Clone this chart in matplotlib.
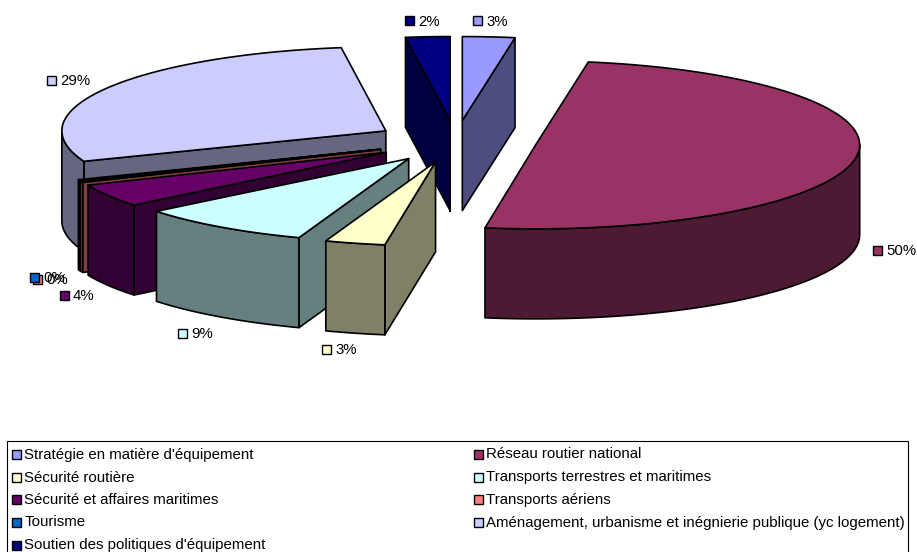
import numpy as np
import matplotlib
matplotlib.use("Agg")
import matplotlib.pyplot as plt
from matplotlib.patches import Polygon, Rectangle

plt.rcParams["font.family"] = ["Liberation Sans", "DejaVu Sans"]

categories = [
    "Stratégie en matière d'équipement",
    "Réseau routier national",
    "Sécurité routière",
    "Transports terrestres et maritimes",
    "Sécurité et affaires maritimes",
    "Transports aériens",
    "Tourisme",
    "Aménagement, urbanisme et inégnierie publique (yc logement)",
    "Soutien des politiques d'équipement",
]
shares = [2.6, 49.9, 3.0, 8.7, 4.4, 0.3, 0.2, 28.7, 2.2]
colors = ["#9999FF", "#993366", "#FFFFCC", "#CCFFFF", "#660066",
          "#FF8080", "#0066CC", "#CCCCFF", "#000080"]

# pie layout, in pixels
CX, CY = 455.7, 141.5
RX, RY = 324, 84
DEPTH = 90
EXPLODE = 0.25
LW = 1.2
FONT = 10.8

# back slices first, the front ones paint over them
draw_order = [7, 8, 0, 1, 6, 5, 4, 3, 2]

# swatch left/top of each percentage label
label_pos = [(472, 15.5), (872, 245), (321, 344), (177, 328), (59, 290),
             (32, 274), (29, 272), (46, 75), (404, 15.5)]


def ellipse_pt(x0, y0, theta):
    # theta in degrees, clockwise from the top of the pie
    t = np.radians(theta)
    return x0 + RX * np.sin(t), y0 - RY * np.cos(t)


def shade(color):
    r, g, b = matplotlib.colors.to_rgb(color)
    return (r * 0.5, g * 0.5, b * 0.5)


def face(ax, pts, color, z):
    ax.add_patch(Polygon(pts, closed=True, facecolor=color, edgecolor="black",
                         linewidth=LW, joinstyle="round", zorder=z))


def draw_slice(ax, start, end, color, z):
    mid = (start + end) / 2
    x0, y0 = ellipse_pt(CX, CY, mid)
    x0 = CX + EXPLODE * (x0 - CX)
    y0 = CY + EXPLODE * (y0 - CY)
    dark = shade(color)

    # cut faces that look towards the viewer
    if np.sin(np.radians(start)) < 0:
        x1, y1 = ellipse_pt(x0, y0, start)
        face(ax, [(x0, y0), (x1, y1), (x1, y1 + DEPTH), (x0, y0 + DEPTH)], dark, z)
    if np.sin(np.radians(end)) > 0:
        x1, y1 = ellipse_pt(x0, y0, end)
        face(ax, [(x0, y0), (x1, y1), (x1, y1 + DEPTH), (x0, y0 + DEPTH)], dark, z)

    # outer wall, only the part on the front half
    lo, hi = max(start, 90), min(end, 270)
    if hi > lo:
        th = np.linspace(lo, hi, 80)
        xs, ys = ellipse_pt(x0, y0, th)
        wall = np.r_[np.c_[xs, ys], np.c_[xs, ys + DEPTH][::-1]]
        face(ax, wall, dark, z)

    th = np.linspace(start, end, 120)
    xs, ys = ellipse_pt(x0, y0, th)
    face(ax, np.r_[[(x0, y0)], np.c_[xs, ys]], color, z)


fig = plt.figure(figsize=(9.17, 5.52), dpi=100)
ax = fig.add_axes([0, 0, 1, 1])
ax.set_xlim(0, 917)
ax.set_ylim(552, 0)
ax.axis("off")

total = sum(shares)
bounds = np.r_[0, np.cumsum(shares)] / total * 360

for z, i in enumerate(draw_order):
    draw_slice(ax, bounds[i], bounds[i + 1], colors[i], z + 1)

# percentage labels with their little colour keys
for i, (x, y) in enumerate(label_pos):
    ax.add_patch(Rectangle((x + 0.5, y + 0.5), 9, 9, facecolor=colors[i],
                           edgecolor="black", linewidth=1.0, zorder=20))
    ax.text(x + 14, y + 10, f"{round(shares[i])}%", fontsize=FONT, va="baseline",
            ha="left", color="black", zorder=21)

# legend box
ax.add_patch(Rectangle((7, 441), 901, 120, facecolor="white", edgecolor="black",
                       linewidth=0.8, zorder=20))
row_y = [454, 477, 499.5, 522, 545]
for k, name in enumerate(categories):
    row = k // 2
    x = 12 if k % 2 == 0 else 474
    ax.add_patch(Rectangle((x, row_y[row] - 4.5), 9, 9, facecolor=colors[k],
                           edgecolor="black", linewidth=1.0, zorder=21))
    ax.text(x + 12.5, row_y[row] + 4.5, name, fontsize=FONT, va="baseline",
            ha="left", color="black", zorder=21)

fig.savefig("out.png", dpi=100)
